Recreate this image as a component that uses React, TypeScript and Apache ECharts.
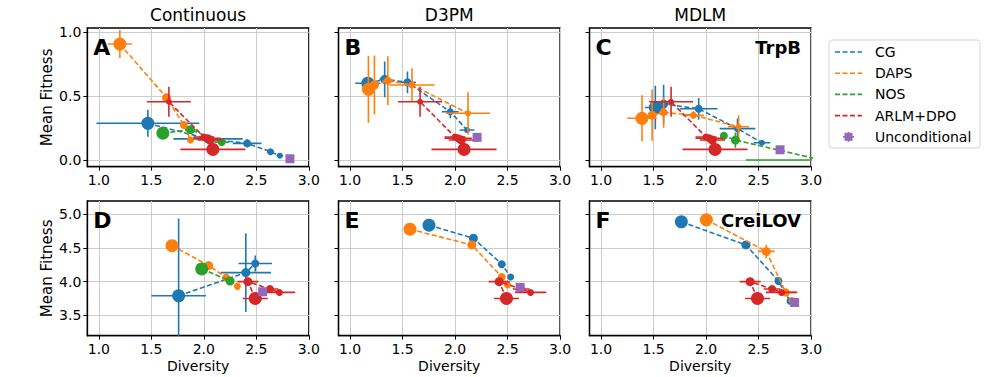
import React, { useEffect, useRef } from 'react';
import * as echarts from 'echarts';

type Pt = [number, number, number, number]; // x, y, xerr, yerr

const X_TICKS = [1.0, 1.5, 2.0, 2.5, 3.0];
const Y_TICKS_TOP = [0.0, 0.5, 1.0];
const Y_TICKS_BOT = [3.5, 4.0, 4.5, 5.0];
const COLUMN_TITLES = ['Continuous', 'D3PM', 'MDLM'];
const PANEL_LETTERS = ['A', 'B', 'C', 'D', 'E', 'F'];
const METHODS = ['CG', 'DAPS', 'NOS', 'ARLM+DPO', 'Unconditional'];
const ROW_LABELS = ['TrpB', 'CreiLOV'];

// ---- Top row (TrpB) ----
const A_CG: Pt[] = [[1.467, 0.287, 0.49, 0.105], [2.04, 0.165, 0.33, 0.02], [2.413, 0.13, 0.137, 0.03], [2.635, 0.065, 0.03, 0.01], [2.724, 0.034, 0.03, 0.01]];
const A_DAPS: Pt[] = [[1.2, 0.906, 0.115, 0.11], [1.645, 0.487, 0.03, 0.03], [1.81, 0.273, 0.02, 0.02], [1.873, 0.156, 0.02, 0.02]];
const A_NOS: Pt[] = [[1.61, 0.21, 0.02, 0.02], [1.873, 0.237, 0.05, 0.03], [2.17, 0.14, 0.07, 0.02]];
const TOP_ARLM: Pt[] = [[2.086, 0.083, 0.31, 0.02], [2.06, 0.156, 0.12, 0.02], [2.03, 0.17, 0.13, 0.02], [2.0, 0.18, 0.1, 0.02], [1.667, 0.455, 0.21, 0.117]];
const A_UNC: Pt[] = [[2.82, 0.01, 0.01, 0.01]];

const B_CG: Pt[] = [[1.169, 0.6, 0.12, 0.03], [1.33, 0.63, 0.05, 0.14], [1.547, 0.607, 0.08, 0.085], [1.955, 0.377, 0.08, 0.05], [2.114, 0.234, 0.07, 0.02]];
const B_DAPS: Pt[] = [[1.175, 0.552, 0.05, 0.26], [1.232, 0.586, 0.04, 0.23], [1.36, 0.62, 0.05, 0.19], [1.59, 0.586, 0.215, 0.13], [2.124, 0.365, 0.21, 0.165]];
const B_NOS: Pt[] = [];
const B_UNC: Pt[] = [[2.21, 0.177, 0.01, 0.01]];

const C_CG: Pt[] = [[1.517, 0.41, 0.1, 0.17], [1.596, 0.437, 0.06, 0.15], [1.93, 0.4, 0.18, 0.085], [2.3, 0.245, 0.17, 0.08], [2.533, 0.135, 0.08, 0.02]];
const C_DAPS: Pt[] = [[1.39, 0.326, 0.14, 0.18], [1.486, 0.35, 0.04, 0.2], [1.596, 0.372, 0.04, 0.12], [1.88, 0.35, 0.1, 0.03], [2.31, 0.26, 0.1, 0.09]];
const C_NOS: Pt[] = [[3.1, 0.0, 0.72, 0.01], [2.28, 0.156, 0.04, 0.06], [2.17, 0.19, 0.03, 0.02]];
const C_UNC: Pt[] = [[2.705, 0.08, 0.01, 0.01]];

// ---- Bottom row (CreiLOV) ----
const D_CG: Pt[] = [[1.76, 3.79, 0.26, 1.15], [2.4, 4.135, 0.24, 0.585], [2.49, 4.27, 0.16, 0.12]];
const D_DAPS: Pt[] = [[1.697, 4.536, 0.02, 0.02], [2.045, 4.24, 0.02, 0.02], [2.213, 4.06, 0.02, 0.02], [2.32, 3.93, 0.01, 0.01]];
const D_NOS: Pt[] = [[1.98, 4.19, 0.03, 0.03], [2.25, 4.01, 0.02, 0.02]];
const BOT_ARLM: Pt[] = [[2.49, 3.75, 0.12, 0.05], [2.42, 4.0, 0.1, 0.06], [2.63, 3.89, 0.08, 0.03], [2.72, 3.84, 0.15, 0.02]];
const D_UNC: Pt[] = [[2.56, 3.85, 0.01, 0.01]];

const E_CG: Pt[] = [[1.752, 4.84, 0.02, 0.02], [2.175, 4.646, 0.02, 0.02], [2.445, 4.26, 0.01, 0.01], [2.53, 4.07, 0.01, 0.01]];
const E_DAPS: Pt[] = [[1.571, 4.78, 0.02, 0.02], [2.16, 4.546, 0.02, 0.02], [2.445, 4.07, 0.01, 0.01], [2.5, 3.95, 0.01, 0.01]];
const E_NOS: Pt[] = [];
const E_UNC: Pt[] = [[2.62, 3.915, 0.01, 0.01]];

const F_CG: Pt[] = [[1.765, 4.89, 0.04, 0.03], [2.38, 4.546, 0.04, 0.04], [2.69, 4.01, 0.02, 0.02], [2.8, 3.71, 0.01, 0.01]];
const F_DAPS: Pt[] = [[2.003, 4.92, 0.06, 0.04], [2.574, 4.45, 0.08, 0.1], [2.76, 3.84, 0.09, 0.04], [2.82, 3.72, 0.01, 0.01]];
const F_NOS: Pt[] = [];
const F_UNC: Pt[] = [[2.844, 3.69, 0.01, 0.01]];

const PANEL_SERIES: Pt[][][] = [
  [A_CG, A_DAPS, A_NOS, TOP_ARLM, A_UNC],
  [B_CG, B_DAPS, B_NOS, TOP_ARLM, B_UNC],
  [C_CG, C_DAPS, C_NOS, TOP_ARLM, C_UNC],
  [D_CG, D_DAPS, D_NOS, BOT_ARLM, D_UNC],
  [E_CG, E_DAPS, E_NOS, BOT_ARLM, E_UNC],
  [F_CG, F_DAPS, F_NOS, BOT_ARLM, F_UNC],
];

const COLORS = ['#1f77b4', '#ff7f0e', '#2ca02c', '#d62728', '#9467bd'];
const FONT = 'DejaVu Sans';

const GRID_LEFTS = [87.3, 338.5, 589.5];
const GRID_W = 221.5;
const ROW_TOPS = [28, 201];
const ROW_H = [138.7, 134.7];
const X_RANGE = [0.89, 3.0];
const Y_RANGES = [[-0.052, 1.031], [3.196, 5.2]];

function markerSize(i: number) {
  return i === 0 ? 13 : Math.max(5, 9 - (i - 1));
}

export default function App() {
  const ref = useRef<HTMLDivElement>(null);
  useEffect(() => {
    if (!ref.current) return;
    const chart = echarts.init(ref.current, undefined, { renderer: 'svg' });

    const grids: any[] = [];
    const xAxes: any[] = [];
    const yAxes: any[] = [];
    const series: any[] = [];
    const graphics: any[] = [];

    for (let p = 0; p < 6; p++) {
      const row = Math.floor(p / 3);
      const col = p % 3;
      const left = GRID_LEFTS[col];
      const top = ROW_TOPS[row];
      const h = ROW_H[row];
      grids.push({ left, top, width: GRID_W, height: h, show: true, borderColor: '#000', borderWidth: 1.3, backgroundColor: 'transparent', containLabel: false });
      xAxes.push({
        type: 'value', gridIndex: p, min: X_RANGE[0], max: X_RANGE[1],
        axisLine: { show: true, onZero: false, lineStyle: { color: '#000', width: 1.3 } },
        axisTick: { show: true, customValues: X_TICKS, length: 4, lineStyle: { color: '#000', width: 1 } },
        axisLabel: { show: true, customValues: X_TICKS, formatter: (v: number) => v.toFixed(1), margin: 6, fontSize: 14, color: '#000', fontFamily: FONT },
        splitLine: { show: true, lineStyle: { color: '#cccccc', width: 1 } },
      });
      const yt = row === 0 ? Y_TICKS_TOP : Y_TICKS_BOT;
      yAxes.push({
        type: 'value', gridIndex: p, min: Y_RANGES[row][0], max: Y_RANGES[row][1],
        axisLine: { show: true, onZero: false, lineStyle: { color: '#000', width: 1.3 } },
        axisTick: { show: true, customValues: yt, length: 4, lineStyle: { color: '#000', width: 1 } },
        axisLabel: { show: col === 0, customValues: yt, formatter: (v: number) => v.toFixed(1), margin: 6, fontSize: 14, color: '#000', fontFamily: FONT },
        splitLine: { show: true, lineStyle: { color: '#cccccc', width: 1 } },
      });

      PANEL_SERIES[p].forEach((pts, m) => {
        if (!pts.length) return;
        const color = COLORS[m];
        const isUnc = m === 4;
        if (!isUnc) {
          series.push({
            type: 'line', xAxisIndex: p, yAxisIndex: p, silent: true,
            data: pts.map((d) => [d[0], d[1]]), showSymbol: false, symbol: 'none',
            lineStyle: { color, width: 1.6, type: [5, 2.5] }, z: 2 + m * 3, clip: true,
          });
        }
        series.push({
          type: 'custom', xAxisIndex: p, yAxisIndex: p, silent: true, clip: true,
          data: pts, encode: { x: 0, y: 1 }, z: 3 + m * 3,
          renderItem: (_params: any, api: any) => {
            const x = api.value(0), y = api.value(1), xe = api.value(2), ye = api.value(3);
            const l = api.coord([x - xe, y]);
            const r = api.coord([x + xe, y]);
            const t = api.coord([x, y + ye]);
            const b = api.coord([x, y - ye]);
            return {
              type: 'group',
              children: [
                { type: 'line', shape: { x1: l[0], y1: l[1], x2: r[0], y2: r[1] }, style: { stroke: color, lineWidth: 1.6 } },
                { type: 'line', shape: { x1: t[0], y1: t[1], x2: b[0], y2: b[1] }, style: { stroke: color, lineWidth: 1.6 } },
              ],
            };
          },
        });
        series.push({
          type: 'scatter', xAxisIndex: p, yAxisIndex: p, silent: true, clip: true,
          data: pts.map((d) => [d[0], d[1]]),
          symbol: isUnc ? 'rect' : 'circle',
          symbolSize: isUnc ? 9 : (_v: any, params: any) => markerSize(params.dataIndex),
          itemStyle: { color, opacity: 1 }, z: 4 + m * 3,
        });
      });

      // panel letter
      graphics.push({
        type: 'text', x: left + 6, y: top + 19, z: 100,
        style: { text: PANEL_LETTERS[p], font: `bold 22px ${FONT}`, fill: '#000', textVerticalAlign: 'middle' },
      });
    }

    COLUMN_TITLES.forEach((t, c) => {
      graphics.push({
        type: 'text', x: GRID_LEFTS[c] + GRID_W / 2, y: 15,
        style: { text: t, font: `17px ${FONT}`, fill: '#000', textAlign: 'center', textVerticalAlign: 'middle' },
      });
      graphics.push({
        type: 'text', x: GRID_LEFTS[c] + GRID_W / 2, y: 366,
        style: { text: 'Diversity', font: `14px ${FONT}`, fill: '#000', textAlign: 'center', textVerticalAlign: 'middle' },
      });
    });

    ROW_TOPS.forEach((top, r) => {
      graphics.push({
        type: 'text', x: 47, y: top + ROW_H[r] / 2, rotation: Math.PI / 2,
        style: { text: 'Mean Fitness', font: `15px ${FONT}`, fill: '#000', textAlign: 'center', textVerticalAlign: 'middle' },
      });
      graphics.push({
        type: 'text', x: GRID_LEFTS[2] + GRID_W - 10, y: top + 19, z: 100,
        style: { text: ROW_LABELS[r], font: `bold 18px ${FONT}`, fill: '#000', textAlign: 'right', textVerticalAlign: 'middle' },
      });
    });

    // legend
    const lx = 829, ly = 40;
    graphics.push({ type: 'rect', shape: { x: lx, y: ly, width: 151, height: 108, r: 3 }, style: { fill: '#fff', stroke: '#d5d5d5', lineWidth: 1 }, z: 50 });
    METHODS.forEach((name, i) => {
      const yy = ly + 12 + i * 21.2;
      if (i < 4) {
        graphics.push({ type: 'line', shape: { x1: lx + 6, y1: yy, x2: lx + 33, y2: yy }, style: { stroke: COLORS[i], lineWidth: 1.6, lineDash: [5, 2.5] }, z: 51 });
      } else {
        graphics.push({ type: 'line', shape: { x1: lx + 14, y1: yy, x2: lx + 25, y2: yy }, style: { stroke: COLORS[i], lineWidth: 1.6 }, z: 51 });
        graphics.push({ type: 'line', shape: { x1: lx + 19.5, y1: yy - 5, x2: lx + 19.5, y2: yy + 5 }, style: { stroke: COLORS[i], lineWidth: 1.6 }, z: 51 });
        graphics.push({ type: 'rect', shape: { x: lx + 15.5, y: yy - 4, width: 8, height: 8 }, style: { fill: COLORS[i] }, z: 52 });
      }
      graphics.push({ type: 'text', x: lx + 46, y: yy, style: { text: name, font: `14px ${FONT}`, fill: '#000', textVerticalAlign: 'middle' }, z: 51 });
    });

    chart.setOption({
      animation: false,
      backgroundColor: '#fff',
      grid: grids,
      xAxis: xAxes,
      yAxis: yAxes,
      series,
      graphic: graphics,
    });
    return () => chart.dispose();
  }, []);
  return <div ref={ref} style={{ position: 'fixed', left: 0, top: 0, width: 1000, height: 377 }} />;
}
